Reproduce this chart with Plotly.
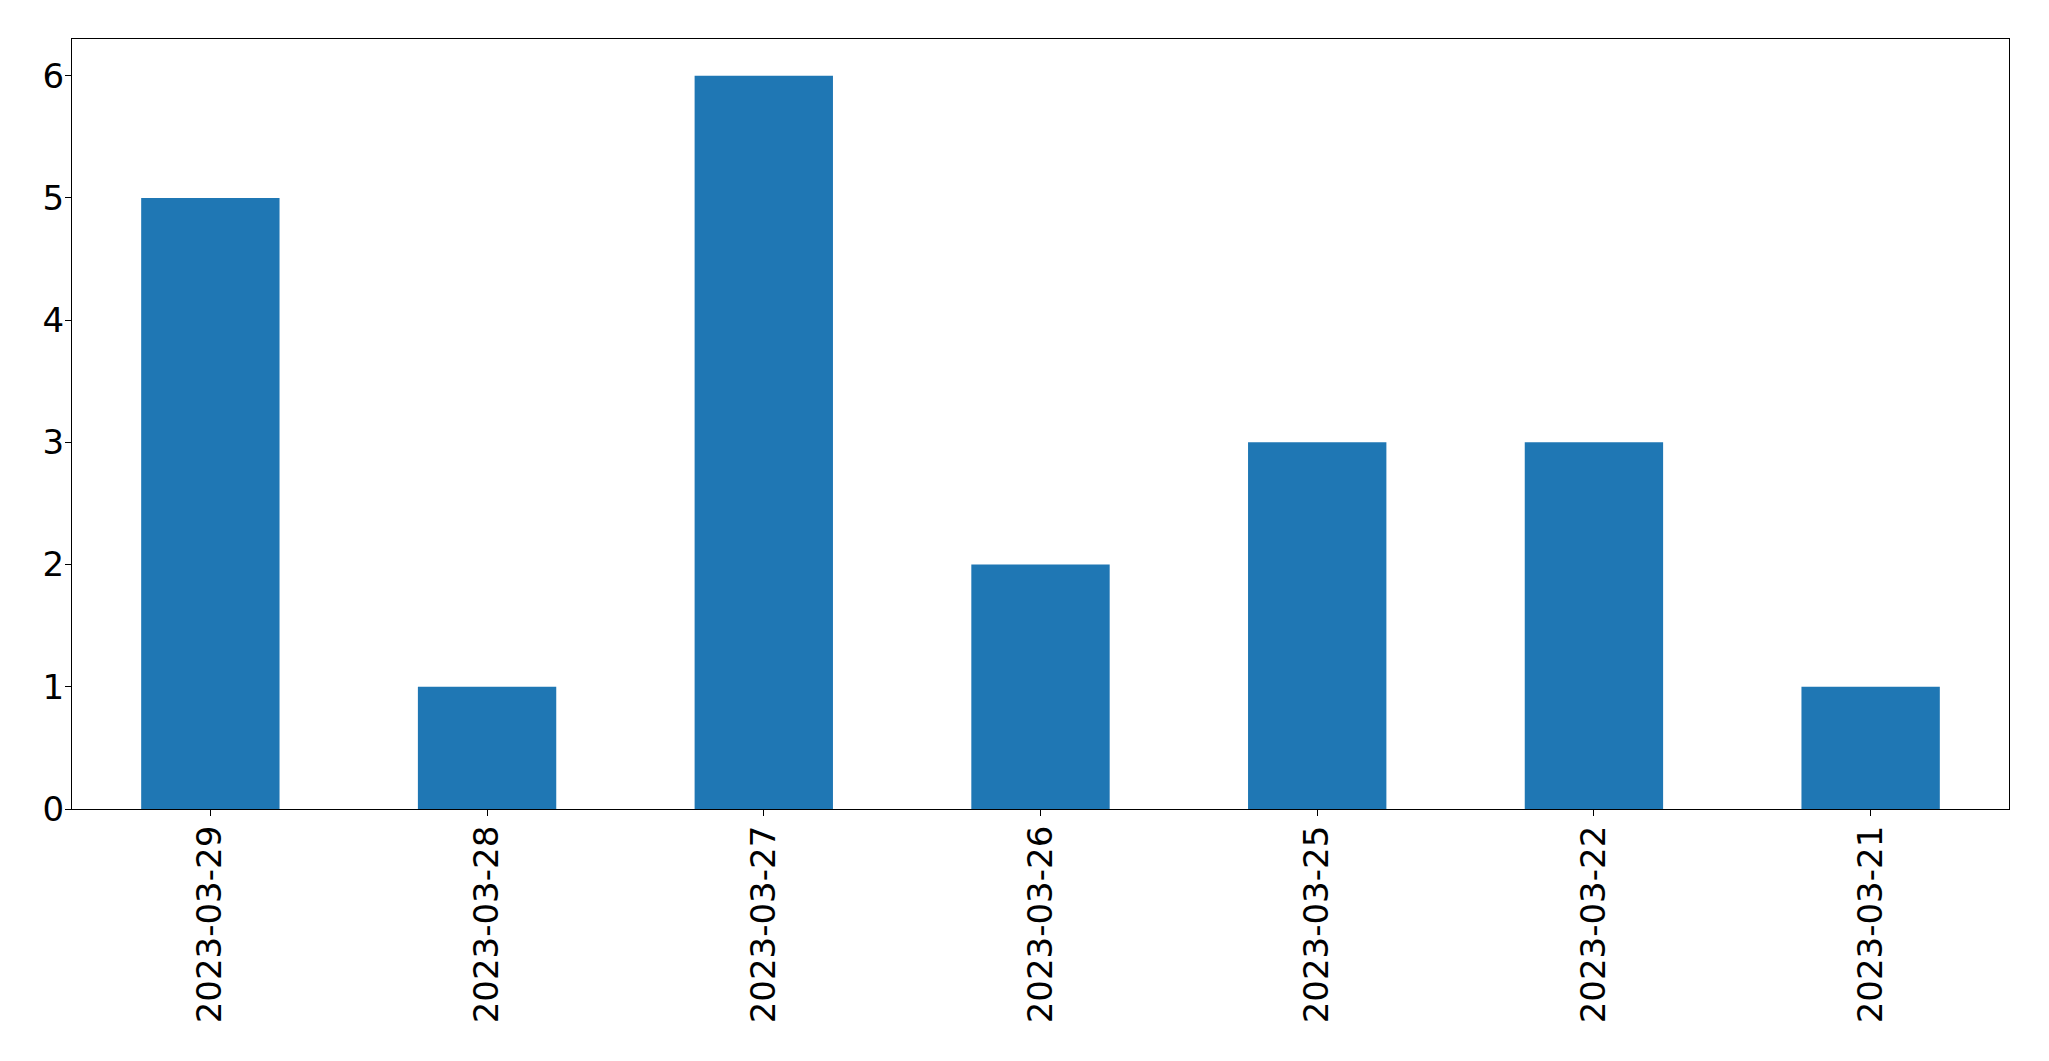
import plotly.graph_objects as go

dates = ["2023-03-29", "2023-03-28", "2023-03-27", "2023-03-26", "2023-03-25", "2023-03-22", "2023-03-21"]
counts = [5, 1, 6, 2, 3, 3, 1]
y_ticks = [0, 1, 2, 3, 4, 5, 6]

fig = go.Figure(go.Bar(x=dates, y=counts, marker=dict(color="#1f77b4", line=dict(width=0)), width=0.5))

font = dict(family="DejaVu Sans", size=34, color="black")
fig.update_layout(
    width=2041, height=1053,
    margin=dict(l=64, r=40, t=31, b=252, autoexpand=False),
    paper_bgcolor="white", plot_bgcolor="white",
    showlegend=False,
    font=font,
)
fig.update_xaxes(type="category", range=[-0.5, 6.5], tickangle=-90, automargin=False,
                 showline=True, linecolor="black", linewidth=1.3, mirror=True,
                 ticks="outside", ticklen=6, tickwidth=1.3, tickcolor="black",
                 ticklabelstandoff=-4,
                 showgrid=False, zeroline=False, tickfont=font)
fig.update_yaxes(range=[0, 6.3], tickvals=y_ticks, automargin=False,
                 showline=True, linecolor="black", linewidth=1.3, mirror=True,
                 ticks="outside", ticklen=6, tickwidth=1.3, tickcolor="black",
                 ticklabelstandoff=-6,
                 showgrid=False, zeroline=False, tickfont=font)
fig.write_html("out.html")
